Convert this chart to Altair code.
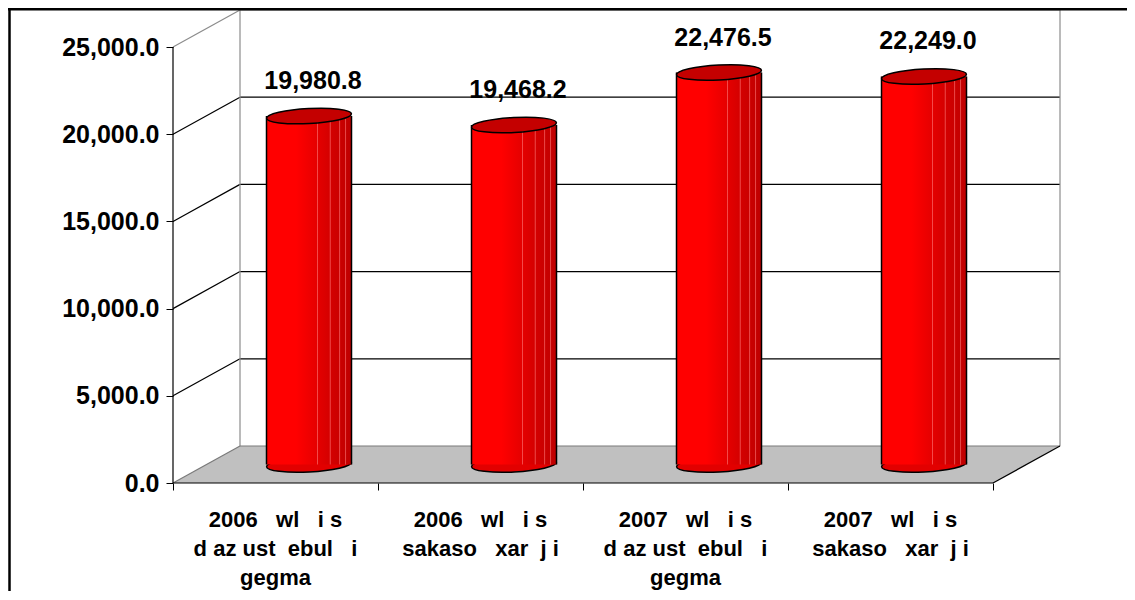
import altair as alt
import pandas as pd

# ---------------- data ----------------
NB = "\u00a0"
line1 = ["2006" + NB * 2 + " wl" + NB * 2 + " i s", "2006" + NB * 2 + " wl" + NB * 2 + " i s",
         "2007" + NB * 2 + " wl" + NB * 2 + " i s", "2007" + NB * 2 + " wl" + NB * 2 + " i s"]
line2 = ["d az ust" + NB + " ebul" + NB * 2 + " i", "sakaso" + NB * 2 + " xar" + NB + " j i",
         "d az ust" + NB + " ebul" + NB * 2 + " i", "sakaso" + NB * 2 + " xar" + NB + " j i"]
line3 = ["gegma", "", "gegma", ""]
values = [19980.8, 19468.2, 22476.5, 22249.0]
y_ticks = [0, 5000, 10000, 15000, 20000, 25000]
categories = ["\n".join([a, b, c]).rstrip("\n") for a, b, c in zip(line1, line2, line3)]

# ---------------- geometry (layout constants) ----------------
N = len(values)
YMAX = 25000
DX = 67 / 205          # depth offset in category units
DY = 2122              # depth offset in value units
W, H = 887, 473
PAD = {"left": 165, "top": 2, "right": 67, "bottom": 108}
HW = 42.5 / 205        # cylinder half width in category units

FONT = "Liberation Sans"

xs = alt.Scale(domain=[0, N + DX], nice=False, zero=False)
ys = alt.Scale(domain=[0, YMAX + DY], nice=False, zero=False)

X_AXIS = alt.Axis(values=list(range(N + 1)), labels=False, ticks=True, tickSize=7,
                  tickColor="black", tickWidth=1, domain=False, grid=False, title=None)
Y_AXIS = alt.Axis(values=y_ticks, format=",.1f", domain=False, grid=False, ticks=True,
                  tickSize=7, tickColor="black", tickWidth=1, labelFont=FONT, labelFontSize=25,
                  labelFontWeight="bold", labelColor="black", labelPadding=7, title=None,
                  labelOverlap=False)


def X(f):
    return alt.X(f, scale=xs, axis=X_AXIS)


def Y(f):
    return alt.Y(f, scale=ys, axis=Y_AXIS)


# ---------------- floor ----------------
floor_df = pd.DataFrame({"x": [0, DX, N, N + DX],
                         "y": [0, DY, DY, DY],
                         "y2": [0, 0, 0, DY]})
floor = alt.Chart(floor_df).mark_area(color="#C0C0C0", opacity=1, interpolate="linear").encode(
    x=X("x:Q"), y=Y("y:Q"), y2="y2:Q",
)

# ---------------- wall / grid segments ----------------
GRAY = "#8C8C8C"
GRAY2 = "#7A7A7A"
seg = []
for v in y_ticks[1:-1]:
    seg.append((DX, v + DY, N + DX, v + DY, "black"))
    seg.append((0, v, DX, v + DY, "black"))
seg += [
    (DX, YMAX + DY, N + DX, YMAX + DY, GRAY),
    (0, YMAX, DX, YMAX + DY, GRAY),
    (DX, DY, DX, YMAX + DY, GRAY),
    (N + DX, DY, N + DX, YMAX + DY, GRAY),
    (DX, DY, N + DX, DY, GRAY2),
    (0, 0, DX, DY, GRAY2),
    (N, 0, N + DX, DY, "black"),
    (0, 0, N, 0, "black"),
    (0, 0, 0, YMAX, "black"),
]
seg_df = pd.DataFrame(seg, columns=["x", "y", "x2", "y2", "c"])
segments = alt.Chart(seg_df).mark_rule(strokeWidth=1.2).encode(
    x=X("x:Q"), y=Y("y:Q"), x2="x2:Q", y2="y2:Q", color=alt.Color("c:N", scale=None),
)

# ---------------- cylinders ----------------
cyl_df = pd.DataFrame({
    "cx": [i + 0.5 + DX / 2 for i in range(N)],
    "value": values,
})
cyl_df["xl"] = cyl_df["cx"] - HW
cyl_df["xr"] = cyl_df["cx"] + HW
cyl_df["yb"] = DY / 2
cyl_df["yt"] = cyl_df["value"] + DY / 2

grad = alt.Gradient(
    gradient="linear",
    stops=[
        alt.GradientStop(color="#FF0000", offset=0),
        alt.GradientStop(color="#FF0000", offset=0.35),
        alt.GradientStop(color="#EA0000", offset=0.55),
        alt.GradientStop(color="#D40000", offset=0.75),
        alt.GradientStop(color="#BE0000", offset=1),
    ],
    x1=0, x2=1, y1=0, y2=0,
)

r = 0.176
k = 0.5523
kr = k * r
ELLIPSE = (f"M -1 0 C -1 {-kr} {-k} {-r} 0 {-r} C {k} {-r} 1 {-kr} 1 0 "
           f"C 1 {kr} {k} {r} 0 {r} C {-k} {r} -1 {kr} -1 0 Z")
SIZE = 85 ** 2

bottom_ell = alt.Chart(cyl_df).mark_point(
    shape=ELLIPSE, size=SIZE, filled=True, fill="#E20000", stroke="black", strokeWidth=1.5,
    opacity=1, fillOpacity=1, strokeOpacity=1, angle=357,
).encode(x=X("cx:Q"), y=Y("yb:Q"))

body = alt.Chart(cyl_df).mark_rect(fill=grad, opacity=1).encode(
    x=X("xl:Q"), x2="xr:Q", y=Y("yb:Q"), y2="yt:Q",
)

stripe_fracs = [0.6, 0.75, 0.86, 0.93]
st_rows = []
for _, row in cyl_df.iterrows():
    for f in stripe_fracs:
        st_rows.append({"x": row["xl"] + f * 2 * HW, "y": row["yb"], "y2": row["yt"]})
st_df = pd.DataFrame(st_rows)
stripes = alt.Chart(st_df).mark_rule(color="#FF7A7A", strokeWidth=1, opacity=0.6).encode(
    x=X("x:Q"), y=Y("y:Q"), y2="y2:Q",
)

sides_df = pd.concat([
    pd.DataFrame({"x": cyl_df["xl"], "y": cyl_df["yb"], "y2": cyl_df["yt"]}),
    pd.DataFrame({"x": cyl_df["xr"], "y": cyl_df["yb"], "y2": cyl_df["yt"]}),
])
sides = alt.Chart(sides_df).mark_rule(color="black", strokeWidth=1.5).encode(
    x=X("x:Q"), y=Y("y:Q"), y2="y2:Q",
)

top_ell = alt.Chart(cyl_df).mark_point(
    shape=ELLIPSE, size=SIZE, filled=True, fill="#C40000", stroke="black", strokeWidth=1.5,
    opacity=1, fillOpacity=1, strokeOpacity=1, angle=357,
).encode(x=X("cx:Q"), y=Y("yt:Q"))

data_labels = alt.Chart(cyl_df).mark_text(
    font=FONT, fontSize=25, fontWeight="bold", color="black", baseline="alphabetic",
    align="center", dy=-27, dx=4,
).encode(x=X("cx:Q"), y=Y("yt:Q"), text=alt.Text("value:Q", format=",.1f"))

# ---------------- category labels ----------------
cat_df = pd.DataFrame({"x": [i + 0.5 for i in range(N)], "y": [0] * N, "t": categories})
cat_labels = alt.Chart(cat_df).mark_text(
    font=FONT, fontSize=22, fontWeight="bold", color="black", baseline="alphabetic",
    align="center", lineBreak="\n", lineHeight=29, dy=44,
).encode(x=X("x:Q"), y=Y("y:Q"), text="t:N")

# ---------------- outer frame (left and top edges) ----------------
dummy = alt.Data(values=[{}])
frame_left = alt.Chart(dummy).mark_rule(color="black", strokeWidth=2.5).encode(
    x=alt.value(-PAD["left"] + 1.5), y=alt.value(-PAD["top"] + 1), y2=alt.value(H + PAD["bottom"]))
frame_top = alt.Chart(dummy).mark_rule(color="black", strokeWidth=2.5).encode(
    x=alt.value(-PAD["left"]), x2=alt.value(W + PAD["right"]), y=alt.value(-PAD["top"] + 1.2))

chart = alt.layer(
    floor, segments, bottom_ell, body, stripes, sides, top_ell, data_labels, cat_labels,
    frame_left, frame_top,
).properties(
    width=W, height=H, padding=PAD, autosize=alt.AutoSizeParams(type="none"),
    background="white",
).configure_view(stroke=None)

chart.save("out.html", embed_options={"renderer": "svg", "actions": False})
